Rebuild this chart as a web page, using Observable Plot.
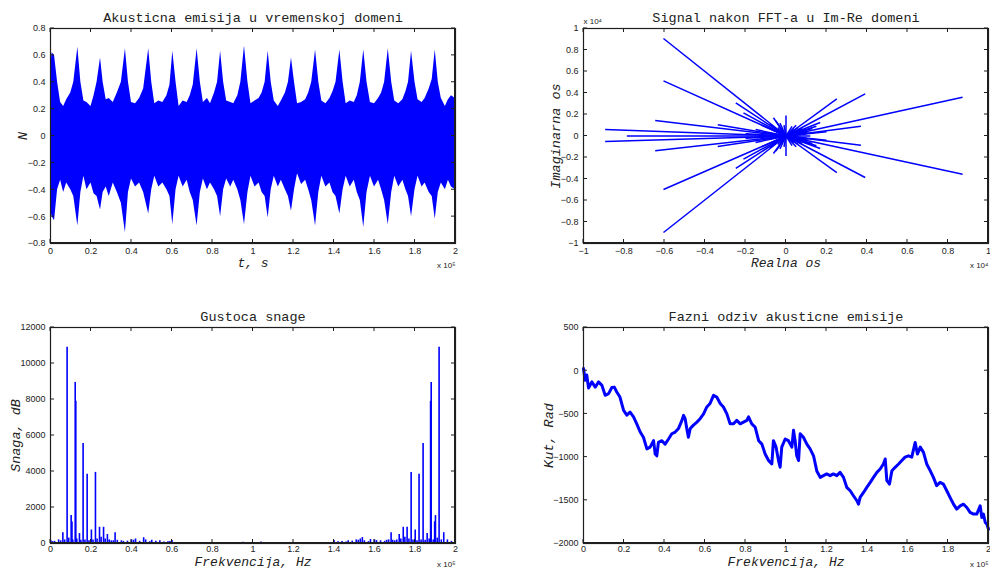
<!DOCTYPE html>
<html><head><meta charset="utf-8">
<script src="https://cdn.jsdelivr.net/npm/d3@7"></script>
<script src="https://cdn.jsdelivr.net/npm/@observablehq/plot@0.6"></script>
<style>
html,body{margin:0;padding:0;background:#fff;}
#wrap{position:relative;width:990px;height:568px;overflow:hidden;}
.cell{position:absolute;}
</style></head>
<body><div id="wrap"></div>
<script>
// ---------- DATA ----------
// Time-domain signal envelope (t in units of 1e5 s)
const timeT = [0.000,0.008,0.02,0.035,0.05,0.065,0.08,0.10,0.115,0.135,0.150,0.165,0.18,0.20,0.215,0.23,0.247,0.26,0.275,0.29,0.31,0.33,0.35,0.37,0.385,0.40,0.42,0.44,0.46,0.485,0.50,0.515,0.535,0.555,0.575,0.59,0.604,0.62,0.635,0.655,0.675,0.69,0.705,0.724,0.74,0.755,0.775,0.79,0.81,0.825,0.84,0.855,0.87,0.89,0.905,0.925,0.94,0.958,0.975,0.99,1.01,1.03,1.045,1.06,1.075,1.09,1.105,1.125,1.14,1.16,1.175,1.19,1.205,1.22,1.24,1.26,1.275,1.29,1.309,1.325,1.34,1.36,1.38,1.395,1.41,1.429,1.445,1.46,1.48,1.50,1.515,1.53,1.547,1.563,1.58,1.60,1.62,1.635,1.65,1.668,1.685,1.70,1.72,1.74,1.755,1.768,1.783,1.80,1.815,1.835,1.85,1.87,1.885,1.90,1.915,1.93,1.95,1.965,1.98,2.00];
const timeUpper = [0.50,0.62,0.60,0.40,0.25,0.22,0.27,0.32,0.40,0.66,0.40,0.26,0.25,0.22,0.30,0.40,0.58,0.40,0.27,0.28,0.25,0.32,0.40,0.65,0.40,0.25,0.24,0.28,0.35,0.65,0.40,0.24,0.26,0.25,0.30,0.38,0.63,0.40,0.22,0.26,0.25,0.30,0.38,0.65,0.40,0.25,0.28,0.24,0.32,0.40,0.63,0.40,0.26,0.25,0.24,0.30,0.40,0.67,0.40,0.24,0.26,0.28,0.32,0.40,0.63,0.40,0.26,0.22,0.26,0.32,0.40,0.58,0.40,0.24,0.25,0.27,0.32,0.40,0.64,0.40,0.26,0.24,0.28,0.33,0.40,0.64,0.40,0.24,0.26,0.25,0.30,0.40,0.64,0.40,0.25,0.24,0.28,0.32,0.40,0.65,0.40,0.26,0.24,0.27,0.33,0.40,0.63,0.40,0.27,0.25,0.28,0.35,0.42,0.64,0.40,0.28,0.22,0.27,0.30,0.28];
const timeLower = [-0.55,-0.60,-0.63,-0.40,-0.33,-0.42,-0.35,-0.40,-0.45,-0.67,-0.42,-0.30,-0.40,-0.35,-0.43,-0.45,-0.55,-0.42,-0.38,-0.45,-0.35,-0.42,-0.50,-0.72,-0.42,-0.32,-0.38,-0.35,-0.42,-0.58,-0.40,-0.30,-0.38,-0.35,-0.40,-0.45,-0.66,-0.40,-0.30,-0.38,-0.33,-0.42,-0.48,-0.67,-0.42,-0.32,-0.40,-0.35,-0.40,-0.45,-0.60,-0.40,-0.32,-0.38,-0.33,-0.40,-0.48,-0.66,-0.42,-0.30,-0.38,-0.35,-0.42,-0.45,-0.61,-0.40,-0.30,-0.38,-0.33,-0.40,-0.45,-0.56,-0.40,-0.28,-0.36,-0.33,-0.40,-0.48,-0.67,-0.42,-0.30,-0.38,-0.35,-0.42,-0.45,-0.58,-0.40,-0.30,-0.38,-0.33,-0.42,-0.48,-0.68,-0.42,-0.30,-0.38,-0.33,-0.40,-0.48,-0.66,-0.42,-0.30,-0.38,-0.33,-0.40,-0.45,-0.60,-0.40,-0.30,-0.38,-0.35,-0.42,-0.45,-0.62,-0.42,-0.35,-0.40,-0.33,-0.38,-0.40];

// FFT in Im-Re plane (units of 1e4): spoke end points
const fftRe = [-0.605,-0.605,-0.605,-0.605,-0.893,-0.893,-0.786,-0.646,-0.646,-0.337,-0.337,-0.248,-0.248,-0.21,-0.21,0.251,0.251,0.391,0.391,0.872,0.872,0.37,0.37,0.169,0.169,0.0,0.0,-0.062,-0.062,0.10,0.10,0.09,0.09,0.08,0.08,0.06,0.06,0.05,0.05,0.03,0.03,-0.01,-0.01,-0.03,-0.03,-0.05,-0.05,-0.07,-0.07,-0.09,-0.09,-0.10,0.12,0.11,0.11,0.04,0.04,-0.04,-0.04,0.07,0.07,0.20,0.20,0.15,0.15,-0.15,-0.15,-0.12,-0.12,-0.20,-0.20,0.13,0.13,-0.08,-0.08];
const fftIm = [0.907,0.513,-0.498,-0.898,0.06,-0.051,0.0,0.144,-0.138,0.104,-0.098,0.309,-0.302,0.215,-0.215,0.346,-0.34,0.392,-0.386,0.361,-0.355,0.091,-0.085,0.126,-0.116,0.19,-0.185,0.17,-0.163,0.02,-0.02,0.05,-0.05,0.07,-0.07,0.08,-0.08,0.10,-0.10,0.09,-0.09,0.10,-0.10,0.12,-0.12,0.14,-0.14,0.06,-0.06,0.03,-0.03,0.0,0.0,0.04,-0.04,0.06,-0.06,0.08,-0.08,0.03,-0.03,0.04,-0.04,0.09,-0.09,0.06,-0.06,0.10,-0.10,0.02,-0.02,0.07,-0.07,0.11,-0.11];

// Power spectral density (f in units of 1e5 Hz)
const psdF = [0.002,0.01,0.02,0.04,0.05,0.061,0.07,0.082,0.09,0.102,0.106,0.11,0.122,0.125,0.13,0.143,0.15,0.161,0.17,0.181,0.19,0.202,0.21,0.222,0.23,0.242,0.25,0.262,0.27,0.281,0.29,0.30,0.31,0.319,0.33,0.35,0.36,0.38,0.40,0.41,0.42,0.44,0.46,0.47,0.49,0.50,0.52,0.54,0.56,0.58,0.59,0.60,0.63,0.66,0.95,0.97,1.04,1.06,1.40,1.42,1.44,1.46,1.47,1.49,1.51,1.52,1.53,1.54,1.55,1.57,1.58,1.60,1.61,1.63,1.65,1.66,1.67,1.682,1.69,1.70,1.71,1.722,1.73,1.742,1.75,1.761,1.77,1.781,1.79,1.801,1.81,1.820,1.83,1.840,1.85,1.860,1.87,1.877,1.880,1.89,1.897,1.901,1.91,1.919,1.93,1.942,1.96,1.98,1.998];
const psdV = [150,100,120,200,150,600,200,10900,300,1550,1200,200,8950,7900,250,550,180,5550,200,3850,150,750,200,3950,250,900,350,900,250,500,200,150,150,600,180,150,120,130,200,180,250,120,320,200,100,180,120,150,80,100,110,160,50,40,70,60,80,50,160,100,110,90,150,130,200,180,250,330,150,100,220,200,160,150,120,180,200,600,180,150,200,500,250,900,350,900,250,3950,200,750,150,3850,200,5550,180,550,250,7900,8950,200,1200,1550,300,10900,200,600,200,120,150];
const psdFloorF = [0,0.2,0.4,0.6,0.8,1.0,1.2,1.4,1.6,1.8,2.0];
const psdFloorV = [40,50,40,25,20,20,20,25,40,50,40];

// Phase response (f in units of 1e5 Hz)
const phF = [0,0.008,0.016,0.025,0.041,0.058,0.074,0.091,0.107,0.124,0.14,0.152,0.165,0.18,0.198,0.214,0.23,0.247,0.263,0.28,0.296,0.313,0.329,0.346,0.354,0.362,0.37,0.387,0.403,0.42,0.436,0.453,0.469,0.486,0.494,0.502,0.51,0.518,0.527,0.543,0.56,0.576,0.593,0.609,0.625,0.642,0.658,0.675,0.691,0.708,0.724,0.741,0.757,0.774,0.79,0.807,0.815,0.831,0.848,0.865,0.881,0.897,0.914,0.93,0.938,0.951,0.963,0.971,0.979,0.996,1.012,1.029,1.037,1.045,1.053,1.062,1.07,1.086,1.103,1.119,1.136,1.152,1.169,1.185,1.201,1.218,1.234,1.251,1.267,1.284,1.3,1.317,1.333,1.35,1.358,1.366,1.383,1.399,1.416,1.432,1.449,1.465,1.481,1.49,1.498,1.511,1.523,1.539,1.556,1.572,1.588,1.605,1.621,1.638,1.649,1.663,1.679,1.695,1.712,1.728,1.744,1.761,1.777,1.794,1.81,1.827,1.843,1.86,1.876,1.893,1.909,1.926,1.942,1.959,1.967,1.975,1.984,1.992,2.0];
const phV = [25,-110,-50,-200,-130,-190,-130,-170,-285,-265,-195,-190,-250,-305,-460,-515,-480,-535,-615,-710,-770,-905,-885,-810,-965,-985,-830,-810,-850,-790,-730,-710,-670,-575,-517,-555,-670,-770,-670,-630,-595,-555,-500,-420,-380,-285,-305,-380,-420,-500,-615,-615,-575,-615,-595,-575,-535,-615,-655,-810,-850,-965,-1040,-1080,-810,-885,-1040,-1117,-885,-790,-810,-885,-690,-810,-985,-1040,-730,-770,-850,-905,-985,-1160,-1235,-1215,-1195,-1215,-1195,-1215,-1177,-1235,-1350,-1390,-1447,-1505,-1545,-1466,-1409,-1350,-1293,-1235,-1177,-1138,-1080,-1022,-1273,-1312,-1157,-1118,-1080,-1040,-1000,-985,-1000,-830,-965,-885,-945,-1080,-1157,-1235,-1331,-1293,-1312,-1390,-1466,-1545,-1602,-1564,-1545,-1583,-1640,-1660,-1660,-1564,-1700,-1660,-1757,-1776,-1835];

// Tick values
const ticks02 = [0,0.2,0.4,0.6,0.8,1,1.2,1.4,1.6,1.8,2];
const ticksTimeY = [-0.8,-0.6,-0.4,-0.2,0,0.2,0.4,0.6,0.8];
const ticksUnit = [-1,-0.8,-0.6,-0.4,-0.2,0,0.2,0.4,0.6,0.8,1];
const ticksPsdY = [0,2000,4000,6000,8000,10000,12000];
const ticksPhY = [-2000,-1500,-1000,-500,0,500];

// ---------- HELPERS ----------
const BLUE = "#0000ff";
const TXT = "#222";
const INK = "#1e1e1e";
const MONO = "Liberation Mono";
const fmt = d => String(Math.round(d * 1000) / 1000).replace("-", "\u2212");
const W = 495, H = 284;

// Frame box and inward ticks, drawn as thin filled rectangles in data space
function frameMarks(xt, yt, xd, yd, fw, fh, padX) {
  const px = (xd[1] - xd[0]) / fw, py = (yd[1] - yd[0]) / fh;
  const bars = [
    {x1: xd[0], x2: xd[0] + px, y1: yd[0], y2: yd[1]},
    {x1: xd[1] - px, x2: xd[1], y1: yd[0], y2: yd[1]},
    {x1: xd[0], x2: xd[1], y1: yd[0], y2: yd[0] + py},
    {x1: xd[0], x2: xd[1], y1: yd[1] - py, y2: yd[1]}
  ];
  for (const t of xt) {
    bars.push({x1: t - px / 2, x2: t + px / 2, y1: yd[0], y2: yd[0] + 4 * py});
    bars.push({x1: t - px / 2, x2: t + px / 2, y1: yd[1] - 4 * py, y2: yd[1]});
  }
  for (const t of yt) {
    bars.push({x1: xd[0], x2: xd[0] + 4 * px, y1: t - py / 2, y2: t + py / 2});
    bars.push({x1: xd[1] - 4 * px, x2: xd[1], y1: t - py / 2, y2: t + py / 2});
  }
  return [
    Plot.rect(bars, {x1: "x1", x2: "x2", y1: "y1", y2: "y2", fill: INK}),
    Plot.frame({stroke: INK, strokeWidth: 1.2}),
    Plot.axisX({ticks: xt, tickSize: 0, tickPadding: padX, tickFormat: fmt, label: null, fill: TXT}),
    Plot.axisY({ticks: yt, tickSize: 0, tickPadding: 5, tickFormat: fmt, label: null, fill: TXT})
  ];
}
const txt = (t, o) => Plot.text([t], {text: d => d, lineAnchor: "middle", fill: TXT, ...o});
const titleMark = (t) => txt(t, {frameAnchor: "top", dy: -11, fontFamily: MONO, fontSize: 13.5});
const xLabel = (t, dy) => txt(t, {frameAnchor: "bottom", dy, fontFamily: MONO, fontStyle: "italic", fontSize: 13});
const yLabel = (t, dx) => txt(t, {frameAnchor: "left", dx, rotate: -90, textAnchor: "middle", fontFamily: MONO, fontStyle: "italic", fontSize: 13.5});
const expMark = (t, anchor, dy, ta) => txt(t, {frameAnchor: anchor, dy, textAnchor: ta, fontFamily: "Liberation Sans", fontSize: 8});

function place(svg, left, top) {
  const d = document.createElement("div");
  d.className = "cell";
  d.style.left = left + "px"; d.style.top = top + "px";
  d.appendChild(svg);
  document.getElementById("wrap").appendChild(d);
}
const baseStyle = {fontFamily: "Liberation Sans", fontSize: "9px", background: "transparent", overflow: "visible", color: "black"};

// ---------- PLOT 1: time domain ----------
{
  const m = {marginLeft: 50, marginRight: 40, marginTop: 28, marginBottom: 41};
  const fw = W - m.marginLeft - m.marginRight, fh = H - m.marginTop - m.marginBottom;
  const xd = [0, 2], yd = [-0.8, 0.8];
  const data = timeT.map((t, i) => ({t, hi: timeUpper[i], lo: timeLower[i]}));
  place(Plot.plot({
    width: W, height: H, ...m, style: baseStyle,
    x: {domain: xd}, y: {domain: yd},
    marks: [
      Plot.areaY(data, {x: "t", y1: "lo", y2: "hi", fill: BLUE}),
      ...frameMarks(ticks02, ticksTimeY, xd, yd, fw, fh, 4),
      titleMark("Akusticna emisija u vremenskoj domeni"),
      xLabel("t, s", 19),
      yLabel("N", -28),
      expMark("x 10\u2075", "bottom-right", 22, "end")
    ]
  }), 0, 0);
}

// ---------- PLOT 2: Im-Re ----------
{
  const m = {marginLeft: 88, marginRight: 2, marginTop: 28, marginBottom: 41};
  const fw = W - m.marginLeft - m.marginRight, fh = H - m.marginTop - m.marginBottom;
  const xd = [-1, 1], yd = [-1, 1];
  const data = fftRe.map((re, i) => ({re, im: fftIm[i]}));
  place(Plot.plot({
    width: W, height: H, ...m, style: baseStyle,
    x: {domain: xd}, y: {domain: yd},
    marks: [
      Plot.link(data, {x1: () => 0, y1: () => 0, x2: "re", y2: "im", stroke: BLUE, strokeWidth: 1.5}),
      ...frameMarks(ticksUnit, ticksUnit, xd, yd, fw, fh, 4),
      titleMark("Signal nakon FFT-a u Im-Re domeni"),
      xLabel("Realna os", 19),
      yLabel("Imaginarna os", -28),
      expMark("x 10\u2074", "top-left", -7, "start"),
      expMark("x 10\u2074", "bottom-right", 22, "end")
    ]
  }), 495, 0);
}

// ---------- PLOT 3: PSD ----------
{
  const m = {marginLeft: 50, marginRight: 40, marginTop: 43, marginBottom: 25};
  const fw = W - m.marginLeft - m.marginRight, fh = H - m.marginTop - m.marginBottom;
  const xd = [0, 2], yd = [0, 12000];
  const data = psdF.map((f, i) => ({f, v: psdV[i]}));
  const floor = psdFloorF.map((f, i) => ({f, v: psdFloorV[i]}));
  place(Plot.plot({
    width: W, height: H, ...m, style: baseStyle,
    x: {domain: xd}, y: {domain: yd},
    marks: [
      Plot.areaY(floor, {x: "f", y: "v", fill: BLUE}),
      Plot.ruleX(data, {x: "f", y1: 0, y2: "v", stroke: BLUE, strokeWidth: 1.6}),
      ...frameMarks(ticks02, ticksPsdY, xd, yd, fw, fh, 2),
      titleMark("Gustoca snage"),
      xLabel("Frekvencija, Hz", 18.5),
      yLabel("Snaga, dB", -35),
      expMark("x 10\u2075", "bottom-right", 21, "end")
    ]
  }), 0, 284);
}

// ---------- PLOT 4: Phase ----------
{
  const m = {marginLeft: 88, marginRight: 2, marginTop: 43, marginBottom: 25};
  const fw = W - m.marginLeft - m.marginRight, fh = H - m.marginTop - m.marginBottom;
  const xd = [0, 2], yd = [-2000, 500];
  const data = phF.map((f, i) => ({f, v: phV[i]}));
  place(Plot.plot({
    width: W, height: H, ...m, style: baseStyle,
    x: {domain: xd}, y: {domain: yd},
    marks: [
      Plot.line(data, {x: "f", y: "v", stroke: BLUE, strokeWidth: 3}),
      ...frameMarks(ticks02, ticksPhY, xd, yd, fw, fh, 2),
      titleMark("Fazni odziv akusticne emisije"),
      xLabel("Frekvencija, Hz", 18.5),
      yLabel("Kut, Rad", -35),
      expMark("x 10\u2075", "bottom-right", 21, "end")
    ]
  }), 495, 284);
}
</script></body></html>
